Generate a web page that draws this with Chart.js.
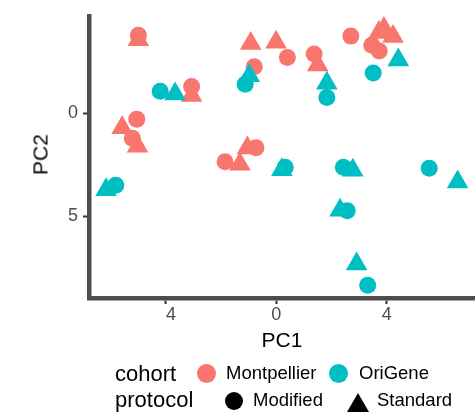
<!DOCTYPE html>
<html>
<head>
<meta charset="utf-8">
<script src="https://cdn.jsdelivr.net/npm/chart.js@4"></script>
<style>
  html, body { margin: 0; padding: 0; background: #fff; }
  #wrap { position: relative; width: 475px; height: 419px; overflow: hidden;
          font-family: "Liberation Sans", Arial, sans-serif; color: #000; }
  #pca { position: absolute; left: 0; top: 0; }
  .t { position: absolute; line-height: 1; white-space: nowrap; }
  .title { font-size: 21px; }
  .leg-title { font-size: 22px; }
  .leg-label { font-size: 18.5px; }
  .dot { position: absolute; border-radius: 50%; }
  .tri { position: absolute; width: 0; height: 0;
         border-left: 11.5px solid transparent; border-right: 11.5px solid transparent;
         border-bottom: 19px solid #000; }
</style>
</head>
<body>
<div id="wrap">
  <canvas id="pca" width="475" height="419"></canvas>

  <!-- axis titles -->
  <div class="t title" style="left:232px;top:329px;width:100px;text-align:center;">PC1</div>
  <div class="t title" style="left:-10px;top:143.5px;width:100px;height:21px;text-align:center;transform:rotate(-90deg);">PC2</div>

  <!-- legend: colour = cohort, shape = protocol -->
  <div class="t leg-title" style="left:115px;top:363px;">cohort</div>
  <div class="dot" style="left:196.5px;top:363.5px;width:19px;height:19px;background:#F8766D;"></div>
  <div class="t leg-label" style="left:226px;top:363.6px;">Montpellier</div>
  <div class="dot" style="left:328.5px;top:363.5px;width:19px;height:19px;background:#00BFC4;"></div>
  <div class="t leg-label" style="left:359px;top:363.6px;">OriGene</div>

  <div class="t leg-title" style="left:115px;top:388.7px;">protocol</div>
  <div class="dot" style="left:225px;top:392px;width:18px;height:18px;background:#000;"></div>
  <div class="t leg-label" style="left:253px;top:391px;">Modified</div>
  <div class="tri" style="left:347px;top:392.5px;"></div>
  <div class="t leg-label" style="left:377px;top:391px;">Standard</div>
</div>

<script>
// groups
const cohorts = ["Montpellier", "OriGene"];
const protocols = ["Modified", "Standard"];
const cohortColors = ["#F8766D", "#00BFC4"];

// Montpellier, Modified
const montModPC1 = [-5.0, -3.07, -5.06, -5.22, 0.40, 1.37, -0.80, 2.70, 3.46, 3.73, -0.74, -1.86];
const montModPC2 = [3.77, 1.29, -0.29, -1.22, 2.70, 2.86, 2.25, 3.73, 3.29, 3.01, -1.67, -2.35];

// Montpellier, Standard
const montStdPC1 = [-5.0, -3.07, -5.59, -5.03, -0.93, -0.01, 1.50, 3.72, 3.90, 4.23, -1.05, -1.32];
const montStdPC2 = [3.55, 0.86, -0.71, -1.60, 3.37, 3.43, 2.33, 3.90, 4.10, 3.71, -1.69, -2.48];

// OriGene, Modified
const oriModPC1 = [-4.21, -5.82, -1.13, 1.83, 3.51, 0.32, 2.43, 5.54, 2.57, 3.31];
const oriModPC2 = [1.06, -3.49, 1.40, 0.76, 1.94, -2.62, -2.62, -2.67, -4.73, -8.33];

// OriGene, Standard
const oriStdPC1 = [-3.67, -6.17, -0.98, 1.83, 4.42, 0.20, 2.77, 6.57, 2.31, 2.91];
const oriStdPC2 = [0.93, -3.71, 1.81, 1.45, 2.57, -2.74, -2.76, -3.33, -4.70, -7.31];

// axis ticks (labels printed without the sign)
const pc1Ticks = [-4, 0, 4];
const pc1TickLabels = ["4", "0", "4"];
const pc2Ticks = [-5, 0];
const pc2TickLabels = ["5", "0"];

function toPoints(xs, ys) {
  return xs.map((x, i) => ({ x: x, y: ys[i] }));
}

function makeSet(cohortIdx, protocolIdx, xs, ys) {
  const isTri = protocols[protocolIdx] === "Standard";
  return {
    label: cohorts[cohortIdx] + " / " + protocols[protocolIdx],
    data: toPoints(xs, ys),
    backgroundColor: cohortColors[cohortIdx],
    borderWidth: 0,
    pointStyle: isTri ? "triangle" : "circle",
    pointRadius: isTri ? 12.5 : 8.5,
    pointHoverRadius: isTri ? 12.5 : 8.5,
    order: cohortIdx === 1 ? 0 : 1, // OriGene on top
    clip: false,
  };
}

const tickFont = { family: "'Liberation Sans', Arial, sans-serif", size: 18 };

new Chart(document.getElementById("pca"), {
  type: "scatter",
  data: {
    datasets: [
      makeSet(0, 0, montModPC1, montModPC2),
      makeSet(0, 1, montStdPC1, montStdPC2),
      makeSet(1, 0, oriModPC1, oriModPC2),
      makeSet(1, 1, oriStdPC1, oriStdPC2),
    ],
  },
  options: {
    responsive: false,
    animation: false,
    layout: { autoPadding: false, padding: { top: 11, left: 0, right: 0, bottom: 0 } },
    plugins: { legend: { display: false }, tooltip: { enabled: false } },
    scales: {
      x: {
        type: "linear",
        min: -6.79,
        max: 7.2,
        afterFit: (s) => { s.height = 121; },
        afterBuildTicks: (s) => { s.ticks = pc1Ticks.map((v) => ({ value: v })); },
        border: { display: true, color: "#4d4d4d", width: 4.5 },
        grid: { drawOnChartArea: false, drawTicks: true, tickLength: 6, tickWidth: 2, tickColor: "#333333" },
        ticks: {
          color: "#4d4d4d",
          font: tickFont,
          padding: 0,
          maxRotation: 0,
          callback: (v) => {
            const i = pc1Ticks.indexOf(v);
            return i < 0 ? "" : (v < 0 ? "\u2007" : "") + pc1TickLabels[i];
          },
        },
      },
      y: {
        type: "linear",
        min: -8.952,
        max: 4.714,
        afterFit: (s) => { s.width = 89; },
        afterBuildTicks: (s) => { s.ticks = pc2Ticks.map((v) => ({ value: v })); },
        border: { display: true, color: "#4d4d4d", width: 4.5 },
        grid: { drawOnChartArea: false, drawTicks: true, tickLength: 6, tickWidth: 2, tickColor: "#333333" },
        ticks: {
          color: "#4d4d4d",
          font: tickFont,
          padding: 5,
          callback: (v) => {
            const i = pc2Ticks.indexOf(v);
            return i < 0 ? "" : pc2TickLabels[i];
          },
        },
      },
    },
  },
});
</script>
</body>
</html>
